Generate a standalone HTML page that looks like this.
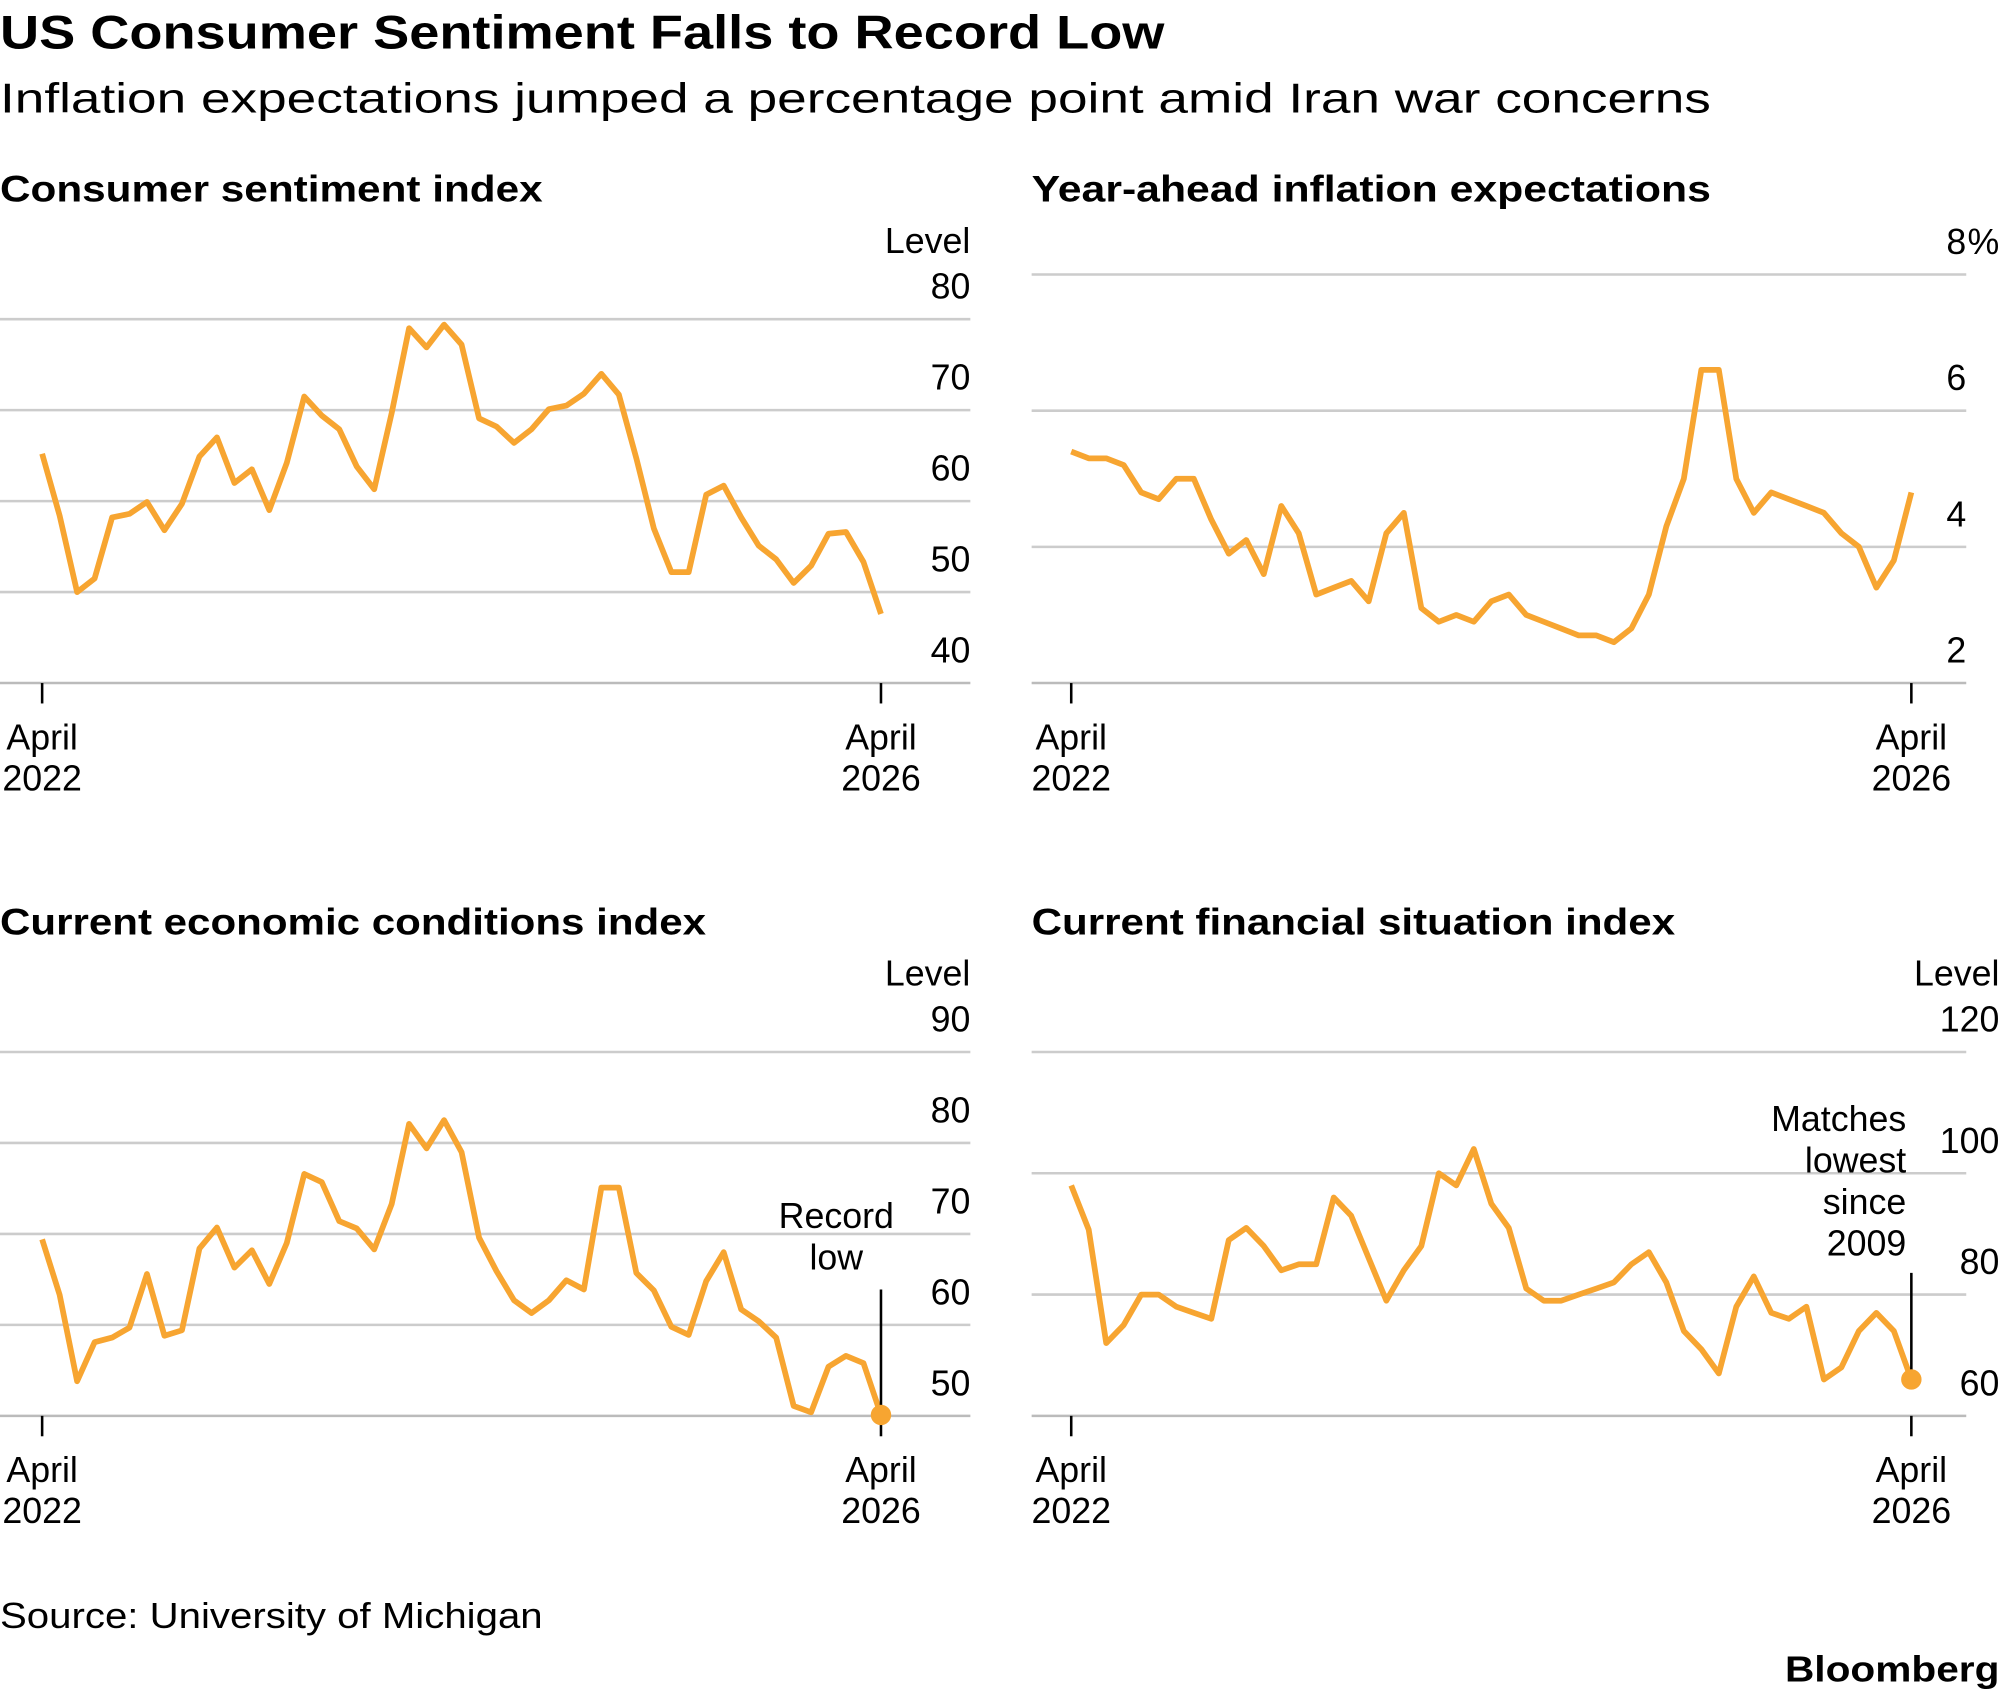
<!DOCTYPE html>
<html><head><meta charset="utf-8"><style>
html,body{margin:0;padding:0;background:#fff}
svg{display:block}
text{font-family:"Liberation Sans",sans-serif;fill:#000}
.t{font-size:28px}
</style></head><body>
<svg id="c" width="2002" height="1698" viewBox="0 0 1568 1330" preserveAspectRatio="none">
<text x="0" y="38" font-size="37" font-weight="bold" textLength="912" lengthAdjust="spacingAndGlyphs">US Consumer Sentiment Falls to Record Low</text>
<text x="0" y="88" font-size="33" textLength="1340" lengthAdjust="spacingAndGlyphs">Inflation expectations jumped a percentage point amid Iran war concerns</text>
<text x="0" y="158" font-size="29" font-weight="bold" textLength="425" lengthAdjust="spacingAndGlyphs">Consumer sentiment index</text>
<text x="808" y="158" font-size="29" font-weight="bold" textLength="532" lengthAdjust="spacingAndGlyphs">Year-ahead inflation expectations</text>
<text x="0" y="732" font-size="29" font-weight="bold" textLength="553" lengthAdjust="spacingAndGlyphs">Current economic conditions index</text>
<text x="808" y="732" font-size="29" font-weight="bold" textLength="504" lengthAdjust="spacingAndGlyphs">Current financial situation index</text>
<text x="0" y="1275" font-size="28" textLength="425" lengthAdjust="spacingAndGlyphs">Source: University of Michigan</text>
<text x="1398" y="1317" font-size="28" font-weight="bold" textLength="168" lengthAdjust="spacingAndGlyphs">Bloomberg</text>
<g id="g"></g>
</svg>
<script>
const sentiment=[65.2,58.4,50.0,51.5,58.2,58.6,59.9,56.8,59.7,64.9,67.0,62.0,63.5,59.0,64.2,71.5,69.4,67.9,63.8,61.3,69.7,79.0,76.9,79.4,77.2,69.1,68.2,66.4,67.9,70.1,70.5,71.8,74.0,71.7,64.7,57.0,52.2,52.2,60.7,61.7,58.2,55.1,53.6,51.0,52.9,56.4,56.6,53.3,47.6];
const inflation=[5.4,5.3,5.3,5.2,4.8,4.7,5.0,5.0,4.4,3.9,4.1,3.6,4.6,4.2,3.3,3.4,3.5,3.2,4.2,4.5,3.1,2.9,3.0,2.9,3.2,3.3,3.0,2.9,2.8,2.7,2.7,2.6,2.8,3.3,4.3,5.0,6.6,6.6,5.0,4.5,4.8,4.7,4.6,4.5,4.2,4.0,3.4,3.8,4.8];
const economic=[69.4,63.3,53.8,58.1,58.6,59.7,65.6,58.8,59.4,68.4,70.7,66.3,68.2,64.5,69.0,76.6,75.7,71.4,70.6,68.3,73.3,82.1,79.4,82.5,79.0,69.6,65.9,62.7,61.3,62.7,64.9,63.9,75.1,75.1,65.7,63.8,59.8,58.9,64.8,68.0,61.7,60.4,58.6,51.1,50.4,55.4,56.6,55.8,50.1];
const financial=[98,90.7,72,75,80,80,78,77,76,89,91,88,84,85,85,96,93,86,79,84,88,100,98,104,95,91,81,79,79,80,81,82,85,87,82,74,71,67,78,83,77,76,78,66,68,74,77,74,66];
const ticks1=[40,50,60,70,80], ticks2=[2,4,6,8], ticks3=[50,60,70,80,90], ticks4=[60,80,100,120];
const xLabels=[["April","2022"],["April","2026"]];
const NS="http://www.w3.org/2000/svg";
const G=document.getElementById('g');
function el(t,a,p){const e=document.createElementNS(NS,t);for(const k in a)e.setAttribute(k,a[k]);(p||G).appendChild(e);return e;}
function panel(o){
 const y=v=>o.yb-(v-o.min)/(o.max-o.min)*(o.yb-o.yt);
 const x=i=>o.x0+i*(o.x1-o.x0)/(o.data.length-1);
 o.ticks.forEach((t,k)=>{
  const gl=el('line',{x1:o.gl,x2:o.gr,y1:y(t),y2:y(t),stroke:k==0?'#bbb':'#ccc','stroke-width':2});
  
  
  const tx=el('text',{x:o.lx,y:y(t)-16,'text-anchor':'end',class:'t'});
  tx.textContent=t;
  
  
  if(k==o.ticks.length-1&&o.pct){const pc=el('text',{x:o.lx+1,y:y(t)-16,class:'t'});pc.textContent='%';
   
   }
 });
 if(o.level){const l=el('text',{x:o.lx,y:y(o.max)-52,'text-anchor':'end',class:'t'});l.textContent='Level';
  
  }
 [o.x0,o.x1].forEach((xx,i)=>{
  const tk=el('line',{x1:xx,x2:xx,y1:o.yb,y2:o.yb+16,stroke:'#000','stroke-width':2});
  
  
  xLabels[i].forEach((s,j)=>{const t=el('text',{x:xx,y:o.yb+52+j*32,'text-anchor':'middle',class:'t'});t.textContent=s;
   
   });
 });
 const d=o.data.map((v,i)=>(i?'L':'M')+x(i).toFixed(1)+','+y(v).toFixed(1)).join('');
 const p=el('path',{d,fill:'none',stroke:'#F7A531','stroke-width':4.5,'stroke-linejoin':'round'});
 
 
 if(o.ann){const n=o.data.length-1,lx=x(n),ly=y(o.data[n]);
  const ln=el('line',{x1:lx,x2:lx,y1:o.ann.y0,y2:ly-6,stroke:'#000','stroke-width':2});
  
  
  const c=el('circle',{cx:lx,cy:ly,r:8,fill:'#F7A531'});
  
  
  o.ann.lines.forEach((s,j)=>{const t=el('text',{x:o.ann.x,y:o.ann.ty+j*32.5,'text-anchor':o.ann.anchor,class:'t'});t.textContent=s;
   
   });
 }
}
panel({data:sentiment,ticks:ticks1,min:40,max:80,yb:535,yt:250,x0:33,x1:690,gl:0,gr:760,lx:760,level:true});
panel({data:inflation,ticks:ticks2,min:2,max:8,yb:535,yt:215,x0:839,x1:1497,gl:808,gr:1540,lx:1540,pct:true});
panel({data:economic,ticks:ticks3,min:50,max:90,yb:1109,yt:824,x0:33,x1:690,gl:0,gr:760,lx:760,level:true,ann:{x:655,ty:962,anchor:'middle',y0:1010,lines:['Record','low']}});
panel({data:financial,ticks:ticks4,min:60,max:120,yb:1109,yt:824,x0:839,x1:1497,gl:808,gr:1540,lx:1566,level:true,ann:{x:1493,ty:886,anchor:'end',y0:997,lines:['Matches','lowest','since','2009']}});
</script>
</body></html>
